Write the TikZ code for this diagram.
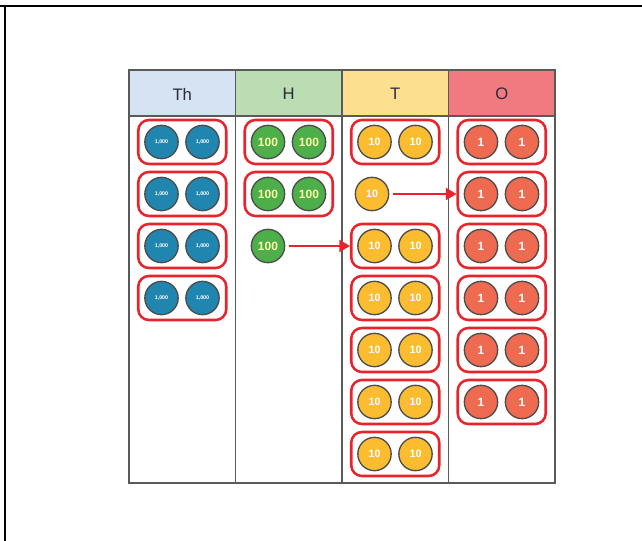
\documentclass[tikz,border=0pt]{standalone}
\usepackage{fontspec}
\setmainfont{Liberation Sans}
\usetikzlibrary{arrows.meta}
\definecolor{thhead}{HTML}{D5E3F3}
\definecolor{hhead}{HTML}{BADDB3}
\definecolor{thead}{HTML}{FDE08F}
\definecolor{ohead}{HTML}{F07A7F}
\definecolor{thcoin}{HTML}{2186AF}
\definecolor{hcoin}{HTML}{4DAF4A}
\definecolor{tcoin}{HTML}{FBBD2F}
\definecolor{ocoin}{HTML}{EE6A50}
\definecolor{grp}{HTML}{E8232B}
\definecolor{gridc}{HTML}{5A5A5A}
\definecolor{htext}{HTML}{2A2A3A}
\begin{document}
\begin{tikzpicture}[x=0.75pt,y=-0.75pt,
  coin/.style={circle,draw=black!70,line width=1pt,minimum size=25pt,inner sep=0pt},
  thc/.style={coin,fill=thcoin,text=white,font=\fontsize{4}{4}\selectfont\bfseries},
  hc/.style={coin,fill=hcoin,text=yellow!35,font=\fontsize{9}{9}\selectfont\bfseries},
  tc/.style={coin,fill=tcoin,text=white,font=\fontsize{8}{8}\selectfont\bfseries},
  oc/.style={coin,fill=ocoin,text=white,font=\fontsize{9}{9}\selectfont\bfseries},
  grpbox/.style={draw=grp,line width=1.9pt,rounded corners=8pt,minimum width=66pt,minimum height=33pt,inner sep=0pt},
  gridline/.style={draw=gridc,line width=1.1pt},
  headtxt/.style={font=\fontsize{12.5}{12.5}\selectfont,text=htext},
  link/.style={draw=grp,line width=1.6pt,-{Triangle[length=8pt,width=9pt]}},
  frameline/.style={draw=black,line width=2pt}]
\useasboundingbox (0,0) rectangle (642,541);
% outer frame
\coordinate (f0) at (0,6);
\coordinate (f1) at (642,6);
\coordinate (f2) at (5,6);
\coordinate (f3) at (5,541);
\draw[frameline] (f0) -- (f1);
\draw[frameline] (f2) -- (f3);
% headers
\fill[thhead] (129,70) rectangle (235.5,116);
\fill[hhead] (235.5,70) rectangle (342,116);
\fill[thead] (342,70) rectangle (448.5,116);
\fill[ohead] (448.5,70) rectangle (555,116);
\node[headtxt] (hTh) at (182.25,94) {Th};
\node[headtxt] (hH) at (288.75,94) {H};
\node[headtxt] (hT) at (395.25,94) {T};
\node[headtxt] (hO) at (501.75,94) {O};
% grid
\draw[gridline] (129,70) rectangle (555,483);
\draw[gridline] (129,116) -- (555,116);
\draw[gridline] (235.5,70) -- (235.5,483);
\draw[gridline] (342,70) -- (342,483);
\draw[gridline] (448.5,70) -- (448.5,483);
% Thousands
\foreach \i in {1,2,3,4}{
  \node[grpbox] (thb\i) at (182.25,{142+52*(\i-1)}) {};
  \node[thc] (tha\i) at (161.5,{142+52*(\i-1)}) {1,000};
  \node[thc] (thz\i) at (202.5,{142+52*(\i-1)}) {1,000};
}
% Hundreds
\foreach \i in {1,2}{
  \node[grpbox] (hb\i) at (288.75,{142+52*(\i-1)}) {};
  \node[hc] (ha\i) at (268,{142+52*(\i-1)}) {100};
  \node[hc] (hz\i) at (309,{142+52*(\i-1)}) {100};
}
\node[hc] (hs) at (268,246) {100};
% Tens
\foreach \i in {1,3,4,5,6,7}{
  \node[grpbox] (tb\i) at (395.25,{142+52*(\i-1)}) {};
  \node[tc] (ta\i) at (374.5,{142+52*(\i-1)}) {10};
  \node[tc] (tz\i) at (415.5,{142+52*(\i-1)}) {10};
}
\node[tc] (ts) at (372,194) {10};
% Ones
\foreach \i in {1,2,3,4,5,6}{
  \node[grpbox] (ob\i) at (501.75,{142+52*(\i-1)}) {};
  \node[oc] (oa\i) at (481,{142+52*(\i-1)}) {1};
  \node[oc] (oz\i) at (522,{142+52*(\i-1)}) {1};
}
% arrows
\draw[link] ([xshift=3pt]hs.east) -- (tb3.west);
\draw[link] ([xshift=3pt]ts.east) -- (ob2.west);
\end{tikzpicture}
\end{document}
